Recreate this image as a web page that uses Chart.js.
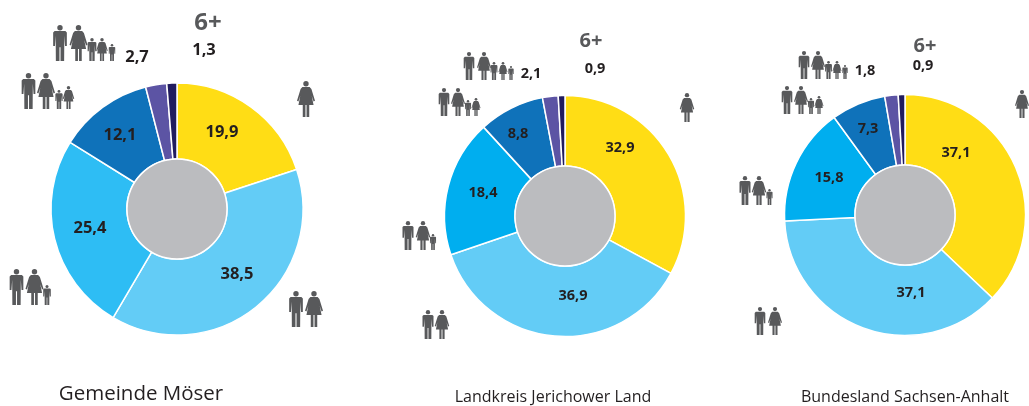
<!DOCTYPE html>
<html>
<head>
<meta charset="utf-8">
<title>Haushaltsgrößen</title>
<script src="https://cdn.jsdelivr.net/npm/chart.js@4"></script>
<style>
  html, body { margin: 0; padding: 0; background: #fff; }
  body { position: relative; width: 1029px; height: 406px; overflow: hidden; }
  canvas { position: absolute; top: 0; }
</style>
</head>
<body>
<canvas id="chartMoeser"></canvas>
<canvas id="chartJerichow"></canvas>
<canvas id="chartSachsenAnhalt"></canvas>

<script>
// household sizes, same order in all three doughnuts
const categories = ['1 Person', '2 Personen', '3 Personen', '4 Personen', '5 Personen', '6+'];
const valuesMoeser = [19.9, 38.5, 25.4, 12.1, 2.7, 1.3];
const valuesJerichow = [32.9, 36.9, 18.4, 8.8, 2.1, 0.9];
const valuesSachsenAnhalt = [37.1, 37.1, 15.8, 7.3, 1.8, 0.9];

const colorsMoeser = ['#ffdd15', '#63ccf6', '#2ebdf4', '#0f72ba', '#5c54a4', '#211c5e'];
const colorsOther = ['#ffdd15', '#63ccf6', '#00aeef', '#0f72ba', '#5c54a4', '#211c5e'];

const TEXT_COLOR = '#231f20';
const ICON_COLOR = '#58595b';
const FONT = '"Open Sans", sans-serif';

// layout of each panel, everything in page pixels
const panels = [
  {
    id: 'chartMoeser', left: 0, width: 385, cx: 177, cy: 209, radius: 126, cutout: '39.7%',
    values: valuesMoeser, colors: colorsMoeser, fontSize: 16.5,
    caption: 'Gemeinde Möser', captionPos: [141, 394], captionSize: 20.5,
    sixPos: [208, 23], sixSize: 24,
    labelPos: [[222, 132], [237, 274], [90, 228], [120, 135], [137, 57], [204, 50]],
    icons: [
      ['woman', 306, 81, 36],
      ['man', 296, 291, 36], ['woman', 314, 291, 36],
      ['man', 16.5, 269, 36], ['woman', 34.5, 269, 36], ['man', 47, 285, 20],
      ['man', 28.5, 73, 36], ['woman', 46, 73, 36], ['man', 59, 90, 19], ['woman', 68.5, 86, 23],
      ['man', 60, 25, 36], ['woman', 78.5, 25, 36], ['man', 92, 38, 23], ['woman', 102, 38, 23], ['man', 112, 44, 17]
    ]
  },
  {
    id: 'chartJerichow', left: 385, width: 345, cx: 565, cy: 216, radius: 120.5, cutout: '41.5%',
    values: valuesJerichow, colors: colorsOther, fontSize: 14.5,
    caption: 'Landkreis Jerichower Land', captionPos: [553, 397], captionSize: 16,
    sixPos: [591, 41], sixSize: 20,
    labelPos: [[620, 148], [573, 296], [483, 193], [518, 134], [531, 74], [595, 69]],
    icons: [
      ['woman', 687, 93, 29],
      ['man', 428, 310, 29], ['woman', 442, 310, 29],
      ['man', 408, 221, 29], ['woman', 423, 221, 29], ['man', 433, 234, 16],
      ['man', 444, 88, 28], ['woman', 458, 88, 28], ['man', 468, 100, 16], ['woman', 476, 98, 18],
      ['man', 469, 52, 28], ['woman', 484, 52, 28], ['man', 494, 62, 18], ['woman', 503, 62, 18], ['man', 511, 66, 14]
    ]
  },
  {
    id: 'chartSachsenAnhalt', left: 730, width: 299, cx: 905, cy: 215, radius: 120.5, cutout: '41.5%',
    values: valuesSachsenAnhalt, colors: colorsOther, fontSize: 14.5,
    caption: 'Bundesland Sachsen-Anhalt', captionPos: [905, 397], captionSize: 16,
    sixPos: [925, 46], sixSize: 20,
    labelPos: [[956, 153], [911, 293], [829, 178], [868, 129], [865, 71], [923, 66]],
    icons: [
      ['woman', 1022, 90, 28],
      ['man', 760, 307, 28], ['woman', 775, 307, 28],
      ['man', 745, 176, 29], ['woman', 759, 176, 29], ['man', 769.5, 189, 16],
      ['man', 787, 86, 28], ['woman', 801, 86, 28], ['man', 811, 98, 16], ['woman', 819, 96, 18],
      ['man', 804, 51, 28], ['woman', 818, 51, 28], ['man', 828.5, 61, 18], ['woman', 837, 61, 18], ['man', 845, 65, 14]
    ]
  }
];

function polygon(ctx, x, y, h, pts) {
  ctx.beginPath();
  pts.forEach(function(p, i) {
    if (i === 0) ctx.moveTo(x + p[0] * h, y + p[1] * h);
    else ctx.lineTo(x + p[0] * h, y + p[1] * h);
  });
  ctx.closePath();
  ctx.fill();
}

// little pictograms, x is the middle of the figure, y its top edge
function drawPerson(ctx, type, x, y, h) {
  ctx.fillStyle = ICON_COLOR;
  ctx.beginPath();
  ctx.arc(x, y + h * 0.075, h * 0.075, 0, Math.PI * 2);
  ctx.fill();
  if (type === 'man') {
    polygon(ctx, x, y, h, [[-0.15, 0.17], [0.15, 0.17], [0.19, 0.21], [0.19, 0.58], [0.14, 0.58],
      [0.12, 0.3], [0.115, 1], [0.015, 1], [0.015, 0.62], [-0.015, 0.62], [-0.015, 1], [-0.115, 1],
      [-0.12, 0.3], [-0.14, 0.58], [-0.19, 0.58], [-0.19, 0.21]]);
  } else {
    polygon(ctx, x, y, h, [[-0.1, 0.17], [0.1, 0.17], [0.15, 0.22], [0.25, 0.55], [0.21, 0.57],
      [0.16, 0.42], [0.21, 0.67], [0.09, 0.67], [0.09, 1], [0.015, 1], [0.015, 0.67], [-0.015, 0.67],
      [-0.015, 1], [-0.09, 1], [-0.09, 0.67], [-0.21, 0.67], [-0.16, 0.42], [-0.21, 0.57], [-0.25, 0.55], [-0.15, 0.22]]);
  }
}

function drawText(ctx, text, x, y, font, color) {
  ctx.font = font;
  ctx.fillStyle = color;
  ctx.textAlign = 'center';
  ctx.textBaseline = 'middle';
  ctx.fillText(text, x, y);
}

// grey hole, icons and all texts of one panel
const panelDecor = {
  id: 'panelDecor',
  afterDatasetsDraw(chart, args, opts) {
    const panel = opts.panel;
    const ctx = chart.ctx;
    const arc = chart.getDatasetMeta(0).data[0];
    ctx.save();

    ctx.beginPath();
    ctx.arc(arc.x, arc.y, arc.innerRadius, 0, Math.PI * 2);
    ctx.fillStyle = '#bbbcbf';
    ctx.fill();
    ctx.lineWidth = 1.5;
    ctx.strokeStyle = '#ffffff';
    ctx.stroke();

    panel.icons.forEach(function(ic) {
      drawPerson(ctx, ic[0], ic[1] - panel.left, ic[2], ic[3]);
    });

    panel.values.forEach(function(v, i) {
      const pos = panel.labelPos[i];
      const label = v.toFixed(1).replace('.', ',');
      drawText(ctx, label, pos[0] - panel.left, pos[1], 'bold ' + panel.fontSize + 'px ' + FONT, TEXT_COLOR);
    });

    drawText(ctx, categories[5], panel.sixPos[0] - panel.left, panel.sixPos[1], 'bold ' + panel.sixSize + 'px ' + FONT, ICON_COLOR);
    drawText(ctx, panel.caption, panel.captionPos[0] - panel.left, panel.captionPos[1], panel.captionSize + 'px ' + FONT, TEXT_COLOR);
    ctx.restore();
  }
};

function createPanel(panel) {
  const canvas = document.getElementById(panel.id);
  canvas.style.left = panel.left + 'px';
  canvas.style.width = panel.width + 'px';
  canvas.style.height = '406px';
  canvas.width = panel.width;
  canvas.height = 406;

  // chart area padded so that its middle falls on the doughnut centre
  const mid = (panel.cx - panel.left) * 2;
  const padding = {
    left: Math.max(mid - panel.width, 0),
    right: Math.max(panel.width - mid, 0),
    top: Math.max(panel.cy * 2 - 406, 0),
    bottom: Math.max(406 - panel.cy * 2, 0)
  };

  new Chart(canvas.getContext('2d'), {
    type: 'doughnut',
    data: {
      labels: categories,
      datasets: [{
        data: panel.values,
        backgroundColor: panel.colors,
        borderColor: '#ffffff',
        borderWidth: 1.5
      }]
    },
    options: {
      responsive: false,
      animation: false,
      radius: panel.radius,
      cutout: panel.cutout,
      layout: { padding: padding },
      plugins: {
        legend: { display: false },
        tooltip: { enabled: false },
        panelDecor: { panel: panel }
      }
    },
    plugins: [panelDecor]
  });
}

document.addEventListener('DOMContentLoaded', function() {
  panels.forEach(createPanel);
});
</script>
</body>
</html>
